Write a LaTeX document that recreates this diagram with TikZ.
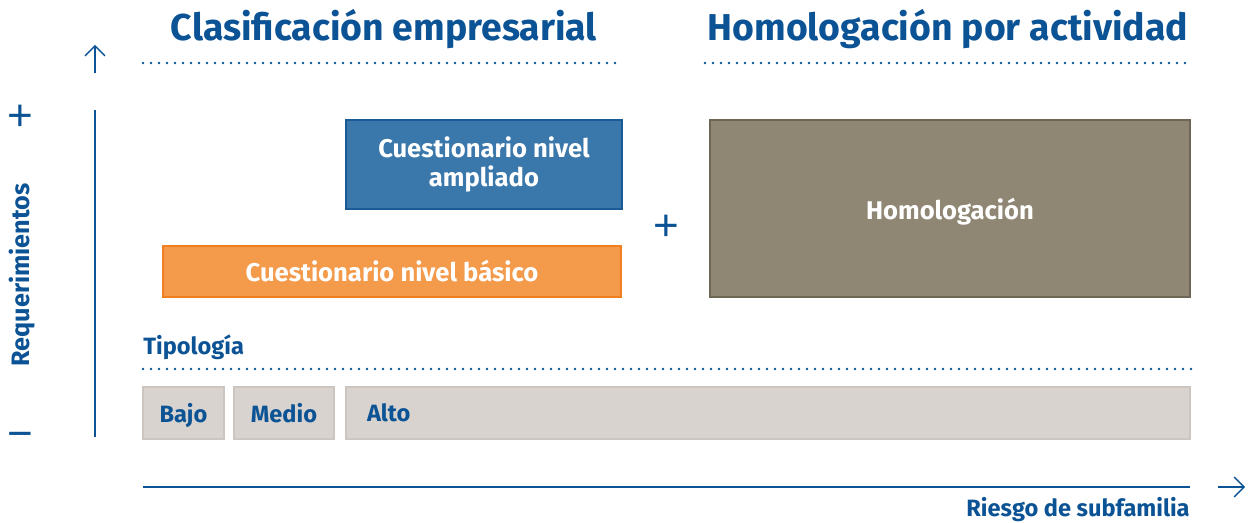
\documentclass[tikz,border=0pt]{standalone}
\usepackage{fontspec}
\setmainfont{Fira Sans}
\newfontfamily\signfont{Liberation Sans}
\usetikzlibrary{arrows.meta}

\definecolor{navy}{HTML}{0B5394}
\definecolor{ampblue}{HTML}{3A77AB}
\definecolor{ampedge}{HTML}{1A5A96}
\definecolor{basorange}{HTML}{F39A4B}
\definecolor{basedge}{HTML}{F07F1F}
\definecolor{homfill}{HTML}{8F8773}
\definecolor{homedge}{HTML}{6E6654}
\definecolor{tipfill}{HTML}{D8D3CF}
\definecolor{tipedge}{HTML}{CCC5C0}

\begin{document}
\begin{tikzpicture}[x=0.5pt,y=-0.5pt,
    title/.style={text=navy, font=\bfseries\fontsize{18.7}{20}\selectfont},
    level/.style={draw, line width=1pt, text=white, inner sep=0pt, align=center,
      font=\bfseries\fontsize{12.8}{14.5}\selectfont},
    tipo/.style={draw=tipedge, fill=tipfill, line width=1pt, text=navy, inner sep=0pt,
      minimum height=26pt, text depth=0pt, font=\bfseries\fontsize{11.8}{13}\selectfont},
    lbl/.style={text=navy, inner sep=0pt, font=\bfseries\fontsize{11.8}{13}\selectfont},
    sign/.style={text=navy, inner sep=0pt, font=\signfont\fontsize{22}{22}\selectfont},
    dots/.style={navy, line width=1.3pt, line cap=round, dash pattern=on 0pt off 4pt},
    axis/.style={navy, line width=1.2pt},
    tip/.style={navy, line width=0.7pt, -{Straight Barb[length=5pt,width=10pt]}}]
  \useasboundingbox (0,0) rectangle (1248,523);

  % headings
  \node[title] (clasif) at (384,29) {Clasificación empresarial};
  \node[title] (homol) at (948,29) {Homologación por actividad};
  \coordinate (c1) at (143,63);
  \coordinate (c2) at (622,63);
  \coordinate (h1) at (705,63);
  \coordinate (h2) at (1192,63);
  \draw[dots] (c1) -- (c2);
  \draw[dots] (h1) -- (h2);

  % vertical axis
  \coordinate (up0) at (95,73);
  \coordinate (up1) at (95,45);
  \draw[tip] (up0) -- (up1);
  \coordinate (ax0) at (95,437);
  \coordinate (ax1) at (95,110);
  \draw[axis] (ax0) -- (ax1);
  \node[sign] (more) at (20,118) {+};
  \node[sign] (less) at (20,440) {−};
  \node[lbl, rotate=90, font=\bfseries\fontsize{12.6}{13}\selectfont] (req) at (22,275) {Requerimientos};

  % levels
  \node[level, draw=ampedge, fill=ampblue, minimum width=138pt, minimum height=44.5pt]
    (ampl) at (484,164.5) {Cuestionario nivel\\ampliado};
  \node[level, draw=basedge, fill=basorange, minimum width=229pt, minimum height=25.5pt]
    (basico) at (392,271.5) {Cuestionario nivel básico};
  \node[sign] (plus) at (666,228) {+};
  \node[level, draw=homedge, fill=homfill, minimum width=240pt, minimum height=88.5pt,
    text depth=0pt] (homo) at (950,208.5) {Homologación};

  % tipologia
  \node[lbl, anchor=west] (tipol) at (143,347) {Tipología};
  \coordinate (t1) at (143,369);
  \coordinate (t2) at (1192,369);
  \draw[dots] (t1) -- (t2);
  \node[tipo, minimum width=40.5pt] (bajo) at (183.5,413) {Bajo};
  \node[tipo, minimum width=50pt] (medio) at (284,413) {Medio};
  \node[tipo, text width=401pt, inner xsep=10.5pt, align=left] (alto) at (768,413) {Alto};

  % horizontal axis
  \coordinate (hx0) at (143,487);
  \coordinate (hx1) at (1190,487);
  \draw[axis] (hx0) -- (hx1);
  \coordinate (rt0) at (1218,487);
  \coordinate (rt1) at (1245,487);
  \draw[tip] (rt0) -- (rt1);
  \node[lbl, anchor=east] (riesgo) at (1190,510) {Riesgo de subfamilia};
\end{tikzpicture}
\end{document}
